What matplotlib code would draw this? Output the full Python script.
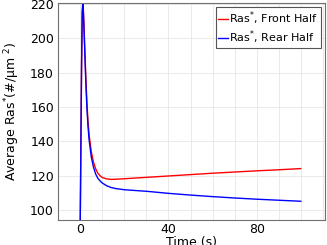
import matplotlib
matplotlib.use("Agg")
import matplotlib.pyplot as plt
from matplotlib.ticker import MultipleLocator

# time samples (s)
t = [0, 0.3, 0.6, 0.9, 1.2, 1.5, 2.0, 2.5, 3.0, 3.5, 4.0, 5.0, 6.0, 7.0, 8.0,
     9.0, 10.0, 12.0, 14.0, 16.0, 20.0, 30.0, 40.0, 50.0, 60.0, 70.0, 80.0, 90.0, 100.0]
front = [94, 140, 185, 215, 222, 214, 196, 178, 163, 152, 144, 134, 128, 124, 121.5,
         120, 119, 118.2, 117.9, 118.0, 118.3, 119.1, 119.9, 120.7, 121.5, 122.2, 122.9, 123.5, 124.2]
rear = [94, 140, 185, 215, 221, 212, 194, 175, 160, 149, 141, 131, 125, 121, 118.5,
        117, 115.8, 114.2, 113.2, 112.6, 111.9, 111.0, 109.8, 108.8, 107.9, 107.1, 106.4, 105.8, 105.2]

fig = plt.figure(figsize=(3.27, 2.45), dpi=100)
ax = fig.add_axes([0.178, 0.102, 0.816, 0.886])

ax.plot(t, front, color='red', lw=1.0, label='Ras$^{*}$, Front Half')
ax.plot(t, rear, color='blue', lw=1.0, label='Ras$^{*}$, Rear Half')

ax.set_xlim(-10, 111)
ax.set_ylim(94.3, 220.5)
ax.xaxis.set_major_locator(MultipleLocator(40))
ax.xaxis.set_minor_locator(MultipleLocator(10))
ax.yaxis.set_major_locator(MultipleLocator(20))
ax.grid(True, which='both', color='#e6e6e6', lw=0.6)
ax.set_axisbelow(True)
for s in ax.spines.values():
    s.set_color('#707070')
ax.tick_params(which='both', length=0, labelsize=9)
ax.tick_params(axis='x', pad=2)
ax.tick_params(axis='y', pad=3)

ax.set_xlabel('Time (s)', fontsize=9, labelpad=0)
ax.set_ylabel('Average Ras$^{*}$(#/μm $^{2}$)', fontsize=9, labelpad=6)

leg = ax.legend(loc='upper right', fontsize=8, handlelength=0.9, handletextpad=0.1,
                borderpad=0.2, labelspacing=0.1, fancybox=False, framealpha=1,
                borderaxespad=0.4)
leg.get_frame().set_edgecolor('#555555')
leg.get_frame().set_linewidth(0.8)

fig.savefig('out.png', dpi=100)
